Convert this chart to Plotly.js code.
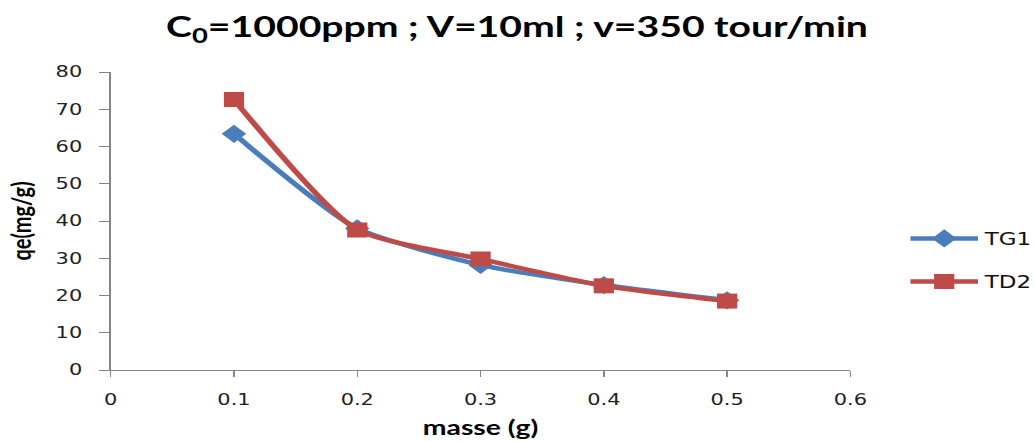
<!DOCTYPE html>
<html>
<head>
<meta charset="utf-8">
<script src="https://cdn.plot.ly/plotly-3.0.1.min.js"></script>
<style>
  html, body { margin: 0; padding: 0; background: #fff; overflow: hidden; }
  /* The chart is laid out at its native width and widened to fill the page. */
  #chart { width: 766px; height: 442px; transform: scaleX(1.34987); transform-origin: 0 0; }
</style>
</head>
<body>
<div id="chart"></div>
<script>
// Adsorbent mass (g)
const masse = [0.1, 0.2, 0.3, 0.4, 0.5];
// Adsorbed quantity qe (mg/g) for each material
const qeTG1 = [63.4, 38.0, 28.2, 22.8, 18.7];
const qeTD2 = [72.6, 37.6, 29.8, 22.6, 18.5];

const xTicks = [0, 0.1, 0.2, 0.3, 0.4, 0.5, 0.6];
const xTickText = ['0', '0.1', '0.2', '0.3', '0.4', '0.5', '0.6'];
const yTicks = [0, 10, 20, 30, 40, 50, 60, 70, 80];

const titleFont = 'Lato, "Open Sans", "DejaVu Sans", sans-serif';
const tickFont = '"DejaVu Sans", Verdana, sans-serif';

const traces = [
  {
    x: masse, y: qeTG1, name: 'TG1', type: 'scatter', mode: 'lines+markers',
    legendgroup: 'g1',
    line: { color: '#4a7ebb', width: 4.5, shape: 'spline', smoothing: 0.6 },
    marker: { symbol: 'diamond', size: 14, color: '#4a7ebb' }
  },
  {
    x: masse, y: qeTD2, name: 'TD2', type: 'scatter', mode: 'lines+markers',
    legendgroup: 'g2',
    line: { color: '#be4b48', width: 4.5, shape: 'spline', smoothing: 0.6 },
    marker: { symbol: 'square', size: 15, color: '#be4b48' }
  }
];

const layout = {
  width: 766, height: 442,
  margin: { l: 81.5, r: 136.4, t: 72, b: 72 },
  paper_bgcolor: '#fff', plot_bgcolor: '#fff',
  title: {
    text: '<b>C<sub>0</sub>=1000ppm ; V=10ml ; v=350 tour/min</b>',
    font: { family: titleFont, size: 29, color: '#000' },
    x: 0.5, xref: 'container', xanchor: 'center',
    y: 0.94, yref: 'container', yanchor: 'middle'
  },
  xaxis: {
    range: [0, 0.6], tickvals: xTicks, ticktext: xTickText,
    showgrid: false, zeroline: false,
    showline: true, linecolor: '#868686', linewidth: 1,
    ticks: 'outside', ticklen: 6, tickcolor: '#868686',
    ticklabelstandoff: 9,
    tickfont: { family: tickFont, size: 15.5, color: '#222' },
    title: { text: '<b>masse (g)</b>', font: { family: titleFont, size: 21, color: '#000' }, standoff: 12 }
  },
  yaxis: {
    range: [0, 80], tickvals: yTicks,
    showgrid: false, zeroline: false,
    showline: true, linecolor: '#868686', linewidth: 1,
    ticks: 'outside', ticklen: 8, tickcolor: '#868686',
    ticklabelstandoff: 9,
    tickfont: { family: tickFont, size: 15.5, color: '#222' },
    title: { text: '<b>qe(mg/g)</b>', font: { family: titleFont, size: 20, color: '#000' }, standoff: 12 }
  },
  showlegend: true,
  legend: {
    xref: 'container', x: 0.874, xanchor: 'left',
    y: 0.368, yanchor: 'middle',
    traceorder: 'grouped', tracegroupgap: 18,
    itemwidth: 50,
    font: { family: tickFont, size: 17, color: '#111' },
    bgcolor: 'rgba(0,0,0,0)'
  }
};

Plotly.newPlot('chart', traces, layout, { displayModeBar: false, staticPlot: true });
</script>
</body>
</html>
